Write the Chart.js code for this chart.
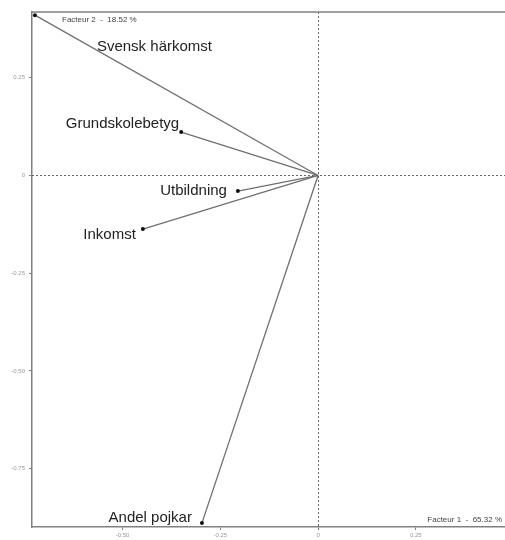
<!DOCTYPE html>
<html>
<head>
<meta charset="utf-8">
<script src="https://cdn.jsdelivr.net/npm/chart.js@4"></script>
<style>
  body{margin:0;background:#fff;}
  canvas{display:block;}
</style>
</head>
<body>
<canvas id="grafico" width="505" height="540"></canvas>
<script>
// variables et coordonnées sur les facteurs 1 et 2
const variables = ['Svensk härkomst','Grundskolebetyg','Utbildning','Inkomst','Andel pojkar'];
const facteur1 = [-0.724, -0.350, -0.205, -0.448, -0.297];
const facteur2 = [0.410, 0.111, -0.040, -0.137, -0.889];
const xTicks = [-0.50, -0.25, 0, 0.25];
const xTickLabels = ['-0.50','-0.25','0','0.25'];
const yTicks = [0.25, 0, -0.25, -0.50, -0.75];
const yTickLabels = ['0.25','0','-0.25','-0.50','-0.75'];
const axisTitles = ['Facteur 1  -  65.32 %','Facteur 2  -  18.52 %'];

// décalages des étiquettes par rapport à la pointe (px) : [dx, dy, align]
const labelOffsets = [[62,32,'left'],[-2,-8,'right'],[-11,0,'right'],[-7,6,'right'],[-10,-5,'right']];

const datasets = variables.map((v,i)=>({
  label:v,
  data:[{x:0,y:0},{x:facteur1[i],y:facteur2[i]}],
  showLine:true,
  borderColor:'#707070',
  borderWidth:1.3,
  pointRadius:[0,2],
  pointBackgroundColor:'#111',
  pointBorderWidth:0
}));

const axesPlugin = {
  id:'axesPlugin',
  beforeDatasetsDraw(chart){
    const {ctx, chartArea:a, scales:{x,y}} = chart;
    ctx.save();
    ctx.strokeStyle='#666'; ctx.lineWidth=1; ctx.setLineDash([2,2]);
    const x0=Math.round(x.getPixelForValue(0))+0.5, y0=Math.round(y.getPixelForValue(0))+0.5;
    ctx.beginPath(); ctx.moveTo(x0,a.top); ctx.lineTo(x0,a.bottom); ctx.stroke();
    ctx.beginPath(); ctx.moveTo(a.left,y0); ctx.lineTo(a.right,y0); ctx.stroke();
    ctx.setLineDash([]);
    ctx.strokeStyle='#808080'; ctx.lineWidth=1.5;
    ctx.beginPath(); ctx.moveTo(a.left,a.top); ctx.lineTo(a.right,a.top); ctx.stroke();
    ctx.restore();
  },
  afterDatasetsDraw(chart){
    const {ctx, chartArea:a, scales:{x,y}} = chart;
    ctx.save();
    ctx.font='15px "Liberation Sans", Arial, sans-serif';
    ctx.fillStyle='#222'; ctx.textBaseline='middle';
    variables.forEach((v,i)=>{
      const px=x.getPixelForValue(facteur1[i]), py=y.getPixelForValue(facteur2[i]);
      const o=labelOffsets[i];
      ctx.textAlign=o[2];
      ctx.fillText(v, px+o[0], py+o[1]);
    });
    ctx.font='8px "Liberation Sans", Arial, sans-serif';
    ctx.fillStyle='#444';
    ctx.textAlign='left';
    ctx.fillText(axisTitles[1], a.left+30, a.top+8);
    ctx.textAlign='right';
    ctx.fillText(axisTitles[0], a.right-3, a.bottom-7);
    ctx.restore();
  }
};

const tickFont = {size:6, family:'"Liberation Sans", Arial, sans-serif'};
const grafico = new Chart(document.getElementById('grafico').getContext('2d'),{
  type:'scatter',
  data:{datasets},
  options:{
    responsive:false,
    animation:false,
    layout:{autoPadding:false, padding:{top:12,right:0,left:0,bottom:0}},
    plugins:{legend:{display:false},tooltip:{enabled:false}},
    scales:{
      x:{
        type:'linear', min:-0.7315, max:0.478,
        afterBuildTicks:s=>{s.ticks=xTicks.map(v=>({value:v}));},
        afterFit:s=>{s.height=13; s.paddingLeft=0; s.paddingRight=0;},
        ticks:{autoSkip:false, maxRotation:0, padding:2, color:'#999', font:tickFont,
          callback:(v,i)=>xTickLabels[i]},
        grid:{drawOnChartArea:false, drawTicks:true, tickLength:3, color:'#808080'},
        border:{display:true, color:'#808080', width:1.5}
      },
      y:{
        type:'linear', min:-0.899, max:0.418,
        afterBuildTicks:s=>{s.ticks=yTicks.map(v=>({value:v}));},
        afterFit:s=>{s.width=32; s.paddingTop=0; s.paddingBottom=0;},
        ticks:{autoSkip:false, padding:4, color:'#999', font:tickFont,
          callback:(v,i)=>yTickLabels[i]},
        grid:{drawOnChartArea:false, drawTicks:true, tickLength:3, color:'#808080'},
        border:{display:true, color:'#808080', width:1.5}
      }
    }
  },
  plugins:[axesPlugin]
});
</script>
</body>
</html>
